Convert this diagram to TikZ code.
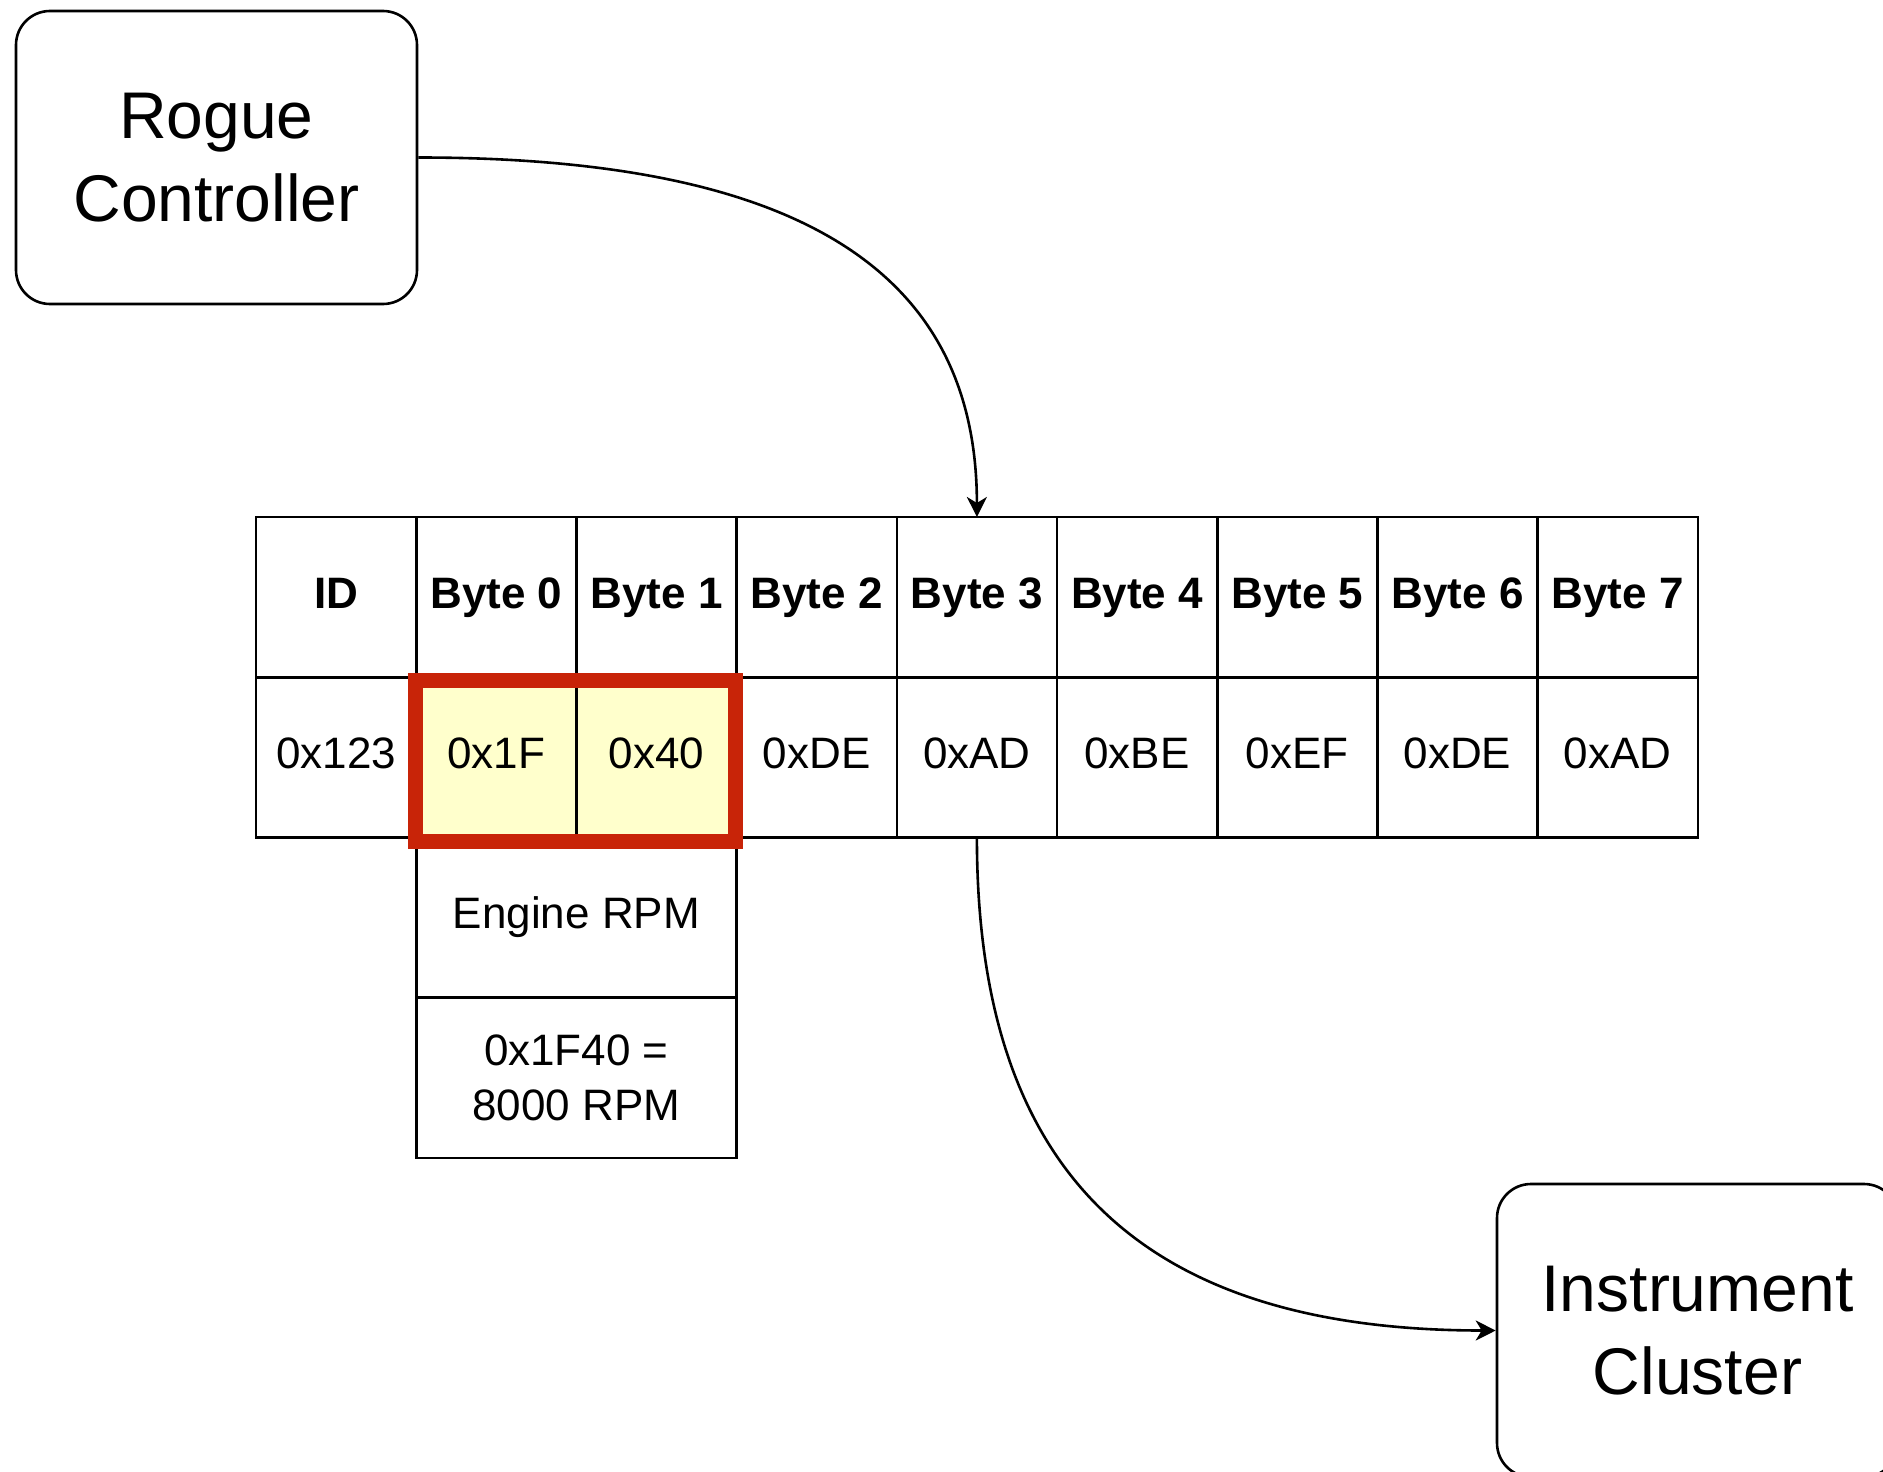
\documentclass[tikz,border=0pt]{standalone}
\usepackage{fontspec}
\setmainfont{Liberation Sans}
\usetikzlibrary{arrows.meta}
\definecolor{hlred}{RGB}{200,36,8}
\definecolor{hlyellow}{RGB}{255,255,204}
\begin{document}
\begin{tikzpicture}[x=1pt,y=-1pt,
  box/.style={draw, line width=2.6pt, rounded corners=34pt, minimum width=401pt, minimum height=293pt, inner sep=0pt, align=center, font=\fontsize{66}{83}\selectfont},
  cell/.style={draw, line width=2.6pt, fill=white, minimum width=160.2pt, minimum height=160.25pt, inner sep=0pt, outer sep=0pt, text height=31.7pt, text depth=9.2pt, font=\fontsize{44}{54}\selectfont},
  head/.style={cell, font=\fontsize{44}{54}\selectfont\bfseries},
  hl/.style={cell, fill=hlyellow},
  wide/.style={cell, minimum width=320.4pt},
  widetwo/.style={draw, line width=2.6pt, fill=white, minimum width=320.4pt, minimum height=160.25pt, inner sep=0pt, align=center, font=\fontsize{44}{55}\selectfont},
  redbox/.style={draw=hlred, line width=15pt, minimum width=319.7pt, minimum height=161.5pt, inner sep=0pt},
  conn/.style={line width=2.6pt, -{Stealth[length=20pt,width=20pt,inset=6pt]}}
]
\useasboundingbox (0,0) rectangle (1883,1472);
\clip (0,0) rectangle (1883,1472);

\node[box] (rogue) at (216.5,157.5) {Rogue\\Controller};
\node[box] (cluster) at (1697.5,1330.5) {Instrument\\Cluster};

% header row
\node[head] (h0) at (336.1,597.1) {ID};
\node[head] (h1) at (496.3,597.1) {Byte 0};
\node[head] (h2) at (656.5,597.1) {Byte 1};
\node[head] (h3) at (816.7,597.1) {Byte 2};
\node[head] (h4) at (976.9,597.1) {Byte 3};
\node[head] (h5) at (1137.1,597.1) {Byte 4};
\node[head] (h6) at (1297.3,597.1) {Byte 5};
\node[head] (h7) at (1457.5,597.1) {Byte 6};
\node[head] (h8) at (1617.7,597.1) {Byte 7};

% value row
\node[cell] (v0) at (336.1,757.4) {0x123};
\node[hl]   (v1) at (496.3,757.4) {0x1F};
\node[hl]   (v2) at (656.5,757.4) {0x40};
\node[cell] (v3) at (816.7,757.4) {0xDE};
\node[cell] (v4) at (976.9,757.4) {0xAD};
\node[cell] (v5) at (1137.1,757.4) {0xBE};
\node[cell] (v6) at (1297.3,757.4) {0xEF};
\node[cell] (v7) at (1457.5,757.4) {0xDE};
\node[cell] (v8) at (1617.7,757.4) {0xAD};

% decoded rows
\node[wide] (rpm) at (576.4,917.6) {Engine RPM};
\node[widetwo] (calc) at (576.4,1077.9) {0x1F40 =\\8000 RPM};

% highlight
\node[redbox] (hlbox) at (575.35,760.75) {};

% connectors
\draw[conn] (rogue.east) .. controls +(390,0) and +(0,-240) .. (h4.north);
\draw[conn] (v4.south) .. controls +(0,330) and +(-360,0) .. (cluster.west);
\end{tikzpicture}
\end{document}
